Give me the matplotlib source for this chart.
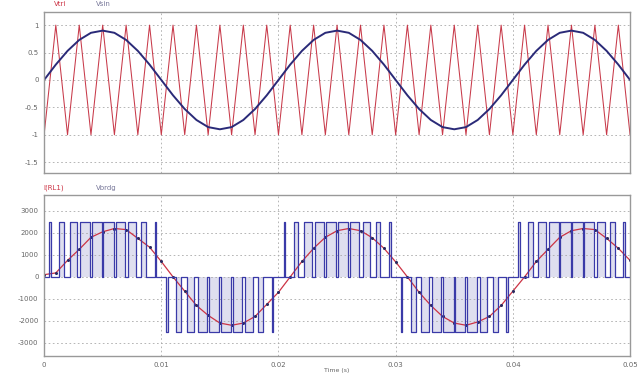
import matplotlib
matplotlib.use("Agg")
import matplotlib.pyplot as plt
import numpy as np

# sample times (s), one per millisecond
t_ms = np.arange(0, 51) / 1000.0

# carrier triangle vertices (top panel)
tri_v = [-1, 1, -1, 1, -1, 1, -1, 1, -1, 1,
         -1, 1, -1, 1, -1, 1, -1, 1, -1, 1,
         -1, 1, -1, 1, -1, 1, -1, 1, -1, 1,
         -1, 1, -1, 1, -1, 1, -1, 1, -1, 1,
         -1, 1, -1, 1, -1, 1, -1, 1, -1, 1, -1]

# sine reference (top panel)
ref_v = [0.00, 0.28, 0.53, 0.73, 0.86, 0.90, 0.86, 0.73, 0.53, 0.28,
         0.00, -0.28, -0.53, -0.73, -0.86, -0.90, -0.86, -0.73, -0.53, -0.28,
         0.00, 0.28, 0.53, 0.73, 0.86, 0.90, 0.86, 0.73, 0.53, 0.28,
         0.00, -0.28, -0.53, -0.73, -0.86, -0.90, -0.86, -0.73, -0.53, -0.28,
         0.00, 0.28, 0.53, 0.73, 0.86, 0.90, 0.86, 0.73, 0.53, 0.28, 0.00]

# filtered output (bottom panel, red)
out_v = [100, 180, 750, 1250, 1800, 2050, 2200, 2150, 1750, 1350,
         700, 0, -650, -1300, -1750, -2100, -2200, -2100, -1800, -1250,
         -700, 0, 700, 1300, 1800, 2100, 2200, 2100, 1780, 1300,
         680, 0, -700, -1300, -1800, -2100, -2200, -2050, -1800, -1300,
         -650, 0, 700, 1250, 1800, 2100, 2200, 2150, 1750, 1300, 750]

# bridge voltage pulses: centre times (s) and signed widths (ms)
pulse_c = np.arange(0.0005, 0.05, 0.001)
half = [0.14, 0.41, 0.64, 0.80, 0.89, 0.89, 0.80, 0.64, 0.41, 0.14]
pulse_w = half + [-w for w in half] + half + [-w for w in half] + half
vdc = 2500

names_top = ["Vtri", "Vsin"]
names_bot = ["I(RL1)", "Vbrdg"]
yt_top = [1, 0.5, 0, -0.5, -1, -1.5]
yt_top_lbl = ["1", "0.5", "0", "-0.5", "-1", "-1.5"]
yt_bot = [3000, 2000, 1000, 0, -1000, -2000, -3000]
xt = [0, 0.01, 0.02, 0.03, 0.04, 0.05]
xt_lbl = ["0", "0.01", "0.02", "0.03", "0.04", "0.05"]

# build the step trace of the pulses
pt, pv = [0.0], [0.0]
for c, w in zip(pulse_c, pulse_w):
    a = c - abs(w) / 2000.0
    b = c + abs(w) / 2000.0
    lvl = vdc if w > 0 else -vdc
    pt += [a, a, b, b]
    pv += [0, lvl, lvl, 0]
pt.append(0.05)
pv.append(0.0)
pt = np.array(pt)
pv = np.array(pv)

fig = plt.figure(figsize=(6.39, 3.74), dpi=100)
ax1 = fig.add_axes([0.069, 0.537, 0.917, 0.431])
ax2 = fig.add_axes([0.069, 0.048, 0.917, 0.431])

gray = "#666666"
for ax in (ax1, ax2):
    ax.set_xlim(0, 0.05)
    ax.set_xticks(xt)
    ax.grid(True, color="#aaaaaa", linestyle=(0, (2, 3)), linewidth=0.6)
    for s in ax.spines.values():
        s.set_color("#999999")
        s.set_linewidth(1.0)
    ax.tick_params(length=0, labelsize=5, colors=gray, pad=4)

ax1.plot(t_ms, tri_v, color="#c83a4a", linewidth=0.75)
ax1.plot(t_ms, ref_v, color="#2a2a78", linewidth=1.4)
ax1.set_ylim(-1.7, 1.24)
ax1.set_yticks(yt_top)
ax1.set_yticklabels(yt_top_lbl)
ax1.set_xticklabels([])

ax2.fill_between(pt, 0, pv, color="#b8b8dc", alpha=0.45, linewidth=0)
ax2.plot(t_ms, out_v, color="#cc3344", linewidth=0.9, marker="o",
         markersize=2.2, markerfacecolor="#2a2a60", markeredgewidth=0)
ax2.plot(pt, pv, color="#3a3aa8", linewidth=0.9)
ax2.set_ylim(-3600, 3730)
ax2.set_yticks(yt_bot)
ax2.set_yticklabels([str(v) for v in yt_bot])
ax2.set_xticklabels(xt_lbl)
ax2.set_xlabel("Time (s)", fontsize=4.5, color=gray, labelpad=0)

# curve names above each panel
fig.text(0.085, 0.99, names_top[0], color="#cc3344", fontsize=5, va="center")
fig.text(0.150, 0.99, names_top[1], color="#777799", fontsize=5, va="center")
fig.text(0.068, 0.497, names_bot[0], color="#cc3344", fontsize=5, va="center")
fig.text(0.150, 0.497, names_bot[1], color="#777799", fontsize=5, va="center")

fig.savefig("out.png", dpi=100)
